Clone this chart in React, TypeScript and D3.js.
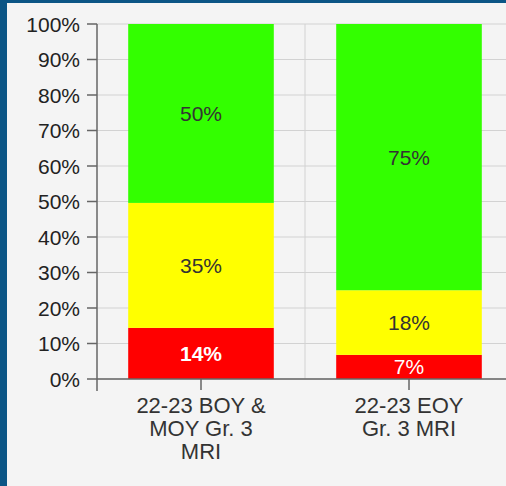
import React from "react";
import * as d3 from "d3";

const categories = ["22-23 BOY & MOY Gr. 3 MRI", "22-23 EOY Gr. 3 MRI"];
const categoryLines = [["22-23 BOY &", "MOY Gr. 3", "MRI"], ["22-23 EOY", "Gr. 3 MRI"]];
const seriesNames = ["Red", "Yellow", "Green"];
const redValues = [14.4, 6.8];
const yellowValues = [35.2, 18.2];
const greenValues = [50.4, 75.0];
const seriesColors = ["#ff0000", "#ffff00", "#33ff00"];
const labelColors = ["#ffffff", "#333333", "#333333"];
const yTicks = [0, 10, 20, 30, 40, 50, 60, 70, 80, 90, 100];

const W = 506;
const H = 486;
const left = 97;
const top = 24;
const bottom = 379;

export default function App() {
  const x = d3.scaleBand<string>().domain(categories).range([left, left + 416]).paddingInner(0.3).paddingOuter(0.15);
  const y = d3.scaleLinear().domain([0, 100]).range([bottom, top]);
  const table = categories.map((c, i) => ({ cat: c, Red: redValues[i], Yellow: yellowValues[i], Green: greenValues[i] }));
  const stacked = d3.stack<any>().keys(seriesNames)(table);
  const step = x.step();
  const font = "Arial, 'Liberation Sans', sans-serif";

  return (
    <svg width={W} height={H} style={{ position: "fixed", left: 0, top: 0 }} fontFamily={font}>
      <rect x={0} y={0} width={W} height={H} fill="#0b5585" />
      <rect x={7} y={3} width={W - 7} height={H - 3} fill="#f4f4f4" />
      {yTicks.map((t) => (
        <line key={"g" + t} x1={left} x2={W} y1={y(t)} y2={y(t)} stroke="#d2d2d2" strokeWidth={1} />
      ))}
      {categories.map((c, i) => (
        <line key={"v" + i} x1={left + step * (i + 1)} x2={left + step * (i + 1)} y1={top} y2={bottom} stroke="#d2d2d2" strokeWidth={1} />
      ))}
      {stacked.map((s, si) =>
        s.map((d, ci) => (
          <rect
            key={"b" + si + "-" + ci}
            x={x(categories[ci])!}
            y={y(d[1])}
            width={x.bandwidth()}
            height={y(d[0]) - y(d[1])}
            fill={seriesColors[si]}
          />
        ))
      )}
      {stacked.map((s, si) =>
        s.map((d, ci) => (
          <text
            key={"l" + si + "-" + ci}
            x={x(categories[ci])! + x.bandwidth() / 2}
            y={(y(d[0]) + y(d[1])) / 2}
            dy="0.36em"
            textAnchor="middle"
            fontSize={21}
            fontWeight={si === 0 && d[1] - d[0] > 10 ? "bold" : "normal"}
            fill={labelColors[si]}
          >
            {Math.round(d[1] - d[0]) + "%"}
          </text>
        ))
      )}
      <line x1={left} x2={left} y1={top} y2={391} stroke="#666" strokeWidth={1.5} />
      {yTicks.map((t) => (
        <g key={"t" + t}>
          <line x1={left - 10} x2={left} y1={y(t)} y2={y(t)} stroke="#666" strokeWidth={1.5} />
          <text x={left - 17} y={y(t)} dy="0.36em" textAnchor="end" fontSize={21} fill="#222">
            {t + "%"}
          </text>
        </g>
      ))}
      <line x1={left} x2={W} y1={bottom} y2={bottom} stroke="#666" strokeWidth={1.5} />
      {categories.map((c, i) => {
        const cx = x(c)! + x.bandwidth() / 2;
        return (
          <g key={"x" + i}>
            <line x1={cx} x2={cx} y1={bottom} y2={bottom + 11} stroke="#666" strokeWidth={1.5} />
            {categoryLines[i].map((ln, li) => (
              <text key={li} x={cx} y={413 + li * 23} textAnchor="middle" fontSize={22} fill="#333">
                {ln}
              </text>
            ))}
          </g>
        );
      })}
    </svg>
  );
}
